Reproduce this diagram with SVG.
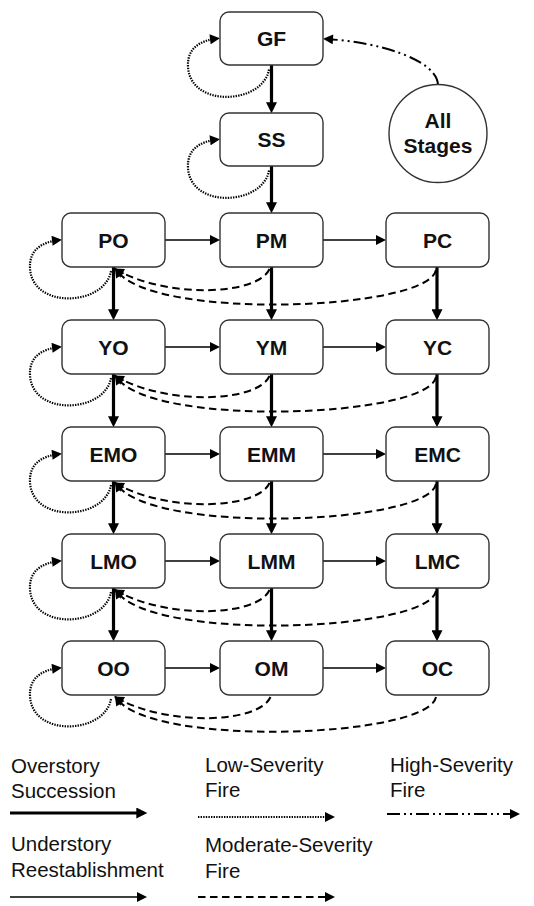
<svg xmlns="http://www.w3.org/2000/svg" width="534" height="906" viewBox="0 0 534 906">
  <style>
    .box { fill: #fff; stroke: #333; stroke-width: 1.4; }
    .lbl { font-family: "Liberation Sans", Arial, sans-serif; font-weight: bold; font-size: 21px; fill: #111; text-anchor: middle; }
    .leg { font-family: "Liberation Sans", Arial, sans-serif; font-size: 20.5px; fill: #111; }
    .over { fill: none; stroke: #000; stroke-width: 3.2; marker-end: url(#headBig); }
    .under { fill: none; stroke: #000; stroke-width: 1.6; marker-end: url(#head); }
    .low { fill: none; stroke: #000; stroke-width: 2.2; stroke-dasharray: 1.4 1.2; marker-end: url(#head); }
    .mod { fill: none; stroke: #000; stroke-width: 2; stroke-dasharray: 7.5 4.5; marker-end: url(#head); }
    .high { fill: none; stroke: #000; stroke-width: 2; stroke-dasharray: 13 4 2 4 2 4; marker-end: url(#head); }
  </style>
  <defs>
    <marker id="headBig" viewBox="0 0 10 10" refX="7" refY="5" markerWidth="12" markerHeight="11" markerUnits="userSpaceOnUse" orient="auto">
      <path d="M0 0L10 5L0 10z" fill="#000"/>
    </marker>
    <marker id="head" viewBox="0 0 10 10" refX="7" refY="5" markerWidth="11" markerHeight="10" markerUnits="userSpaceOnUse" orient="auto">
      <path d="M0 0L10 5L0 10z" fill="#000"/>
    </marker>
  </defs>

  <!-- connectors -->
  <g id="connectors">
    <!-- overstory succession (thick, vertical) -->
    <path class="over" d="M271.5 65V110"/>
    <path class="over" d="M271.5 166V210"/>
    <path class="over" d="M113.5 267V317"/>
    <path class="over" d="M271.5 267V317"/>
    <path class="over" d="M437 267V317"/>
    <path class="over" d="M113.5 374V424"/>
    <path class="over" d="M271.5 374V424"/>
    <path class="over" d="M437 374V424"/>
    <path class="over" d="M113.5 481V531"/>
    <path class="over" d="M271.5 481V531"/>
    <path class="over" d="M437 481V531"/>
    <path class="over" d="M113.5 588V638"/>
    <path class="over" d="M271.5 588V638"/>
    <path class="over" d="M437 588V638"/>

    <!-- understory reestablishment (thin, horizontal) -->
    <path class="under" d="M165 240H217"/>
    <path class="under" d="M323 240H383"/>
    <path class="under" d="M165 347H217"/>
    <path class="under" d="M323 347H383"/>
    <path class="under" d="M165 454H217"/>
    <path class="under" d="M323 454H383"/>
    <path class="under" d="M165 561H217"/>
    <path class="under" d="M323 561H383"/>
    <path class="under" d="M165 668H217"/>
    <path class="under" d="M323 668H383"/>

    <!-- low-severity fire (dotted self loops) -->
    <path class="low" d="M269 69.5C263 104.5 190 108.5 188 66.5C187 48.5 200 40.5 217 38.5"/>
    <path class="low" d="M269 170.5C263 205.5 190 209.5 188 167.5C187 149.5 200 141.5 217 139.5"/>
    <path class="low" d="M111 271C105 306 32 310 30 268C29 250 42 242 59 240"/>
    <path class="low" d="M111 378C105 413 32 417 30 375C29 357 42 349 59 347"/>
    <path class="low" d="M111 485C105 520 32 524 30 482C29 464 42 456 59 454"/>
    <path class="low" d="M111 592C105 627 32 631 30 589C29 571 42 563 59 561"/>
    <path class="low" d="M111 699C105 734 32 738 30 696C29 678 42 670 59 668"/>

    <!-- moderate-severity fire (dashed arcs back to the left column) -->
    <path class="mod" d="M269.5 269C258 295 170 299 116.5 270"/>
    <path class="mod" d="M436 270C428 311 150 321 116.5 270"/>
    <path class="mod" d="M269.5 376C258 402 170 406 116.5 377"/>
    <path class="mod" d="M436 377C428 418 150 428 116.5 377"/>
    <path class="mod" d="M269.5 483C258 509 170 513 116.5 484"/>
    <path class="mod" d="M436 484C428 525 150 535 116.5 484"/>
    <path class="mod" d="M269.5 590C258 616 170 620 116.5 591"/>
    <path class="mod" d="M436 591C428 632 150 642 116.5 591"/>
    <path class="mod" d="M270.5 697C259 723 170 727 116.5 698"/>
    <path class="mod" d="M436 697C428 738 150 748 116.5 698"/>

    <!-- high-severity fire from all stages -->
    <path class="high" d="M438 85C437 60 380 42 326 39"/>
  </g>

  <!-- nodes -->
  <g id="GF"><rect class="box" x="220" y="12" width="103" height="53" rx="9"/><text class="lbl" x="271.5" y="46">GF</text></g>
  <g id="SS"><rect class="box" x="220" y="113" width="103" height="53" rx="9"/><text class="lbl" x="271.5" y="147">SS</text></g>
  <g id="AllStages"><circle cx="438" cy="133.5" r="49" fill="#fff" stroke="#333" stroke-width="1.4"/><text class="lbl" x="438" y="127.5">All</text><text class="lbl" x="438" y="153">Stages</text></g>

  <g id="PO"><rect class="box" x="62" y="213" width="103" height="54" rx="9"/><text class="lbl" x="113.5" y="247.5">PO</text></g>
  <g id="PM"><rect class="box" x="220" y="213" width="103" height="54" rx="9"/><text class="lbl" x="271.5" y="247.5">PM</text></g>
  <g id="PC"><rect class="box" x="386" y="213" width="103" height="54" rx="9"/><text class="lbl" x="437.5" y="247.5">PC</text></g>

  <g id="YO"><rect class="box" x="62" y="320" width="103" height="54" rx="9"/><text class="lbl" x="113.5" y="354.5">YO</text></g>
  <g id="YM"><rect class="box" x="220" y="320" width="103" height="54" rx="9"/><text class="lbl" x="271.5" y="354.5">YM</text></g>
  <g id="YC"><rect class="box" x="386" y="320" width="103" height="54" rx="9"/><text class="lbl" x="437.5" y="354.5">YC</text></g>

  <g id="EMO"><rect class="box" x="62" y="427" width="103" height="54" rx="9"/><text class="lbl" x="113.5" y="461.5">EMO</text></g>
  <g id="EMM"><rect class="box" x="220" y="427" width="103" height="54" rx="9"/><text class="lbl" x="271.5" y="461.5">EMM</text></g>
  <g id="EMC"><rect class="box" x="386" y="427" width="103" height="54" rx="9"/><text class="lbl" x="437.5" y="461.5">EMC</text></g>

  <g id="LMO"><rect class="box" x="62" y="534" width="103" height="54" rx="9"/><text class="lbl" x="113.5" y="568.5">LMO</text></g>
  <g id="LMM"><rect class="box" x="220" y="534" width="103" height="54" rx="9"/><text class="lbl" x="271.5" y="568.5">LMM</text></g>
  <g id="LMC"><rect class="box" x="386" y="534" width="103" height="54" rx="9"/><text class="lbl" x="437.5" y="568.5">LMC</text></g>

  <g id="OO"><rect class="box" x="62" y="641" width="103" height="54" rx="9"/><text class="lbl" x="113.5" y="675.5">OO</text></g>
  <g id="OM"><rect class="box" x="220" y="641" width="103" height="54" rx="9"/><text class="lbl" x="271.5" y="675.5">OM</text></g>
  <g id="OC"><rect class="box" x="386" y="641" width="103" height="54" rx="9"/><text class="lbl" x="437.5" y="675.5">OC</text></g>

  <!-- legend -->
  <g id="legend">
    <text class="leg" x="11" y="773">Overstory</text>
    <text class="leg" x="11" y="798">Succession</text>
    <path class="over" d="M10 813H144"/>

    <text class="leg" x="205" y="772">Low-Severity</text>
    <text class="leg" x="205" y="797">Fire</text>
    <path class="low" d="M198 817H332"/>

    <text class="leg" x="390" y="772">High-Severity</text>
    <text class="leg" x="390" y="797">Fire</text>
    <path class="high" d="M387 814H517"/>

    <text class="leg" x="11" y="851">Understory</text>
    <text class="leg" x="11" y="877">Reestablishment</text>
    <path class="under" d="M10 897H144"/>

    <text class="leg" x="205" y="852">Moderate-Severity</text>
    <text class="leg" x="205" y="878">Fire</text>
    <path class="mod" d="M198 897H332"/>
  </g>
</svg>
